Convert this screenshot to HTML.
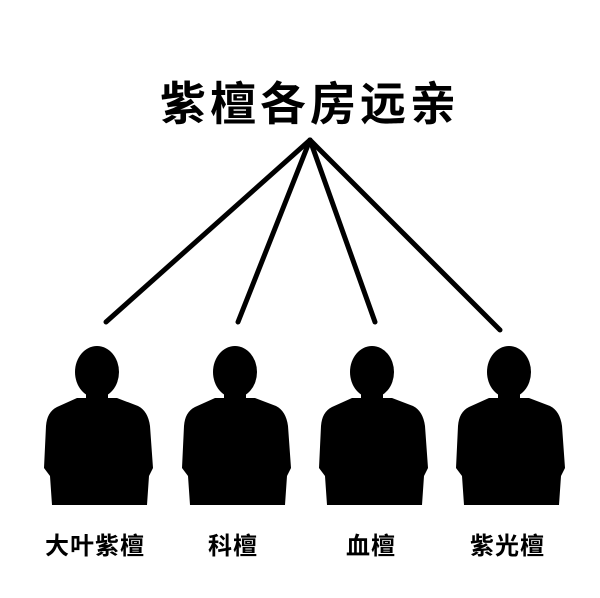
<!DOCTYPE html>
<html><head><meta charset="utf-8"><style>
html,body{margin:0;padding:0;background:#fff;}
body{width:600px;height:598px;position:relative;overflow:hidden;}
.t{position:absolute;font-family:"Liberation Sans","Noto Sans CJK SC",sans-serif;font-weight:bold;color:#000;white-space:nowrap;}
</style></head><body>
<svg width="600" height="598" style="position:absolute;left:0;top:0">
<g stroke="#000" stroke-width="5" stroke-linecap="round">
<line x1="310" y1="140" x2="106" y2="322"/>
<line x1="310" y1="140" x2="238" y2="322"/>
<line x1="310" y1="140" x2="375" y2="322"/>
<line x1="310" y1="140" x2="500" y2="330"/>
</g>
<defs>
<g id="p">
<ellipse cx="0" cy="372" rx="22" ry="26"/>
<rect x="-11" y="390" width="22" height="14"/>
<path d="M-20 398 L-40 407 Q-50 412 -51 426 L-53 468 L-47 476 L-45 505 L50 505 L52 476 L56 468 L53 426 Q51 411 41 406 L20 398 Z"/>
</g>
</defs>
<use href="#p" x="97"/>
<use href="#p" x="235"/>
<use href="#p" x="372"/>
<use href="#p" x="509"/>
</svg>
<div class="t" style="left:160px;top:68px;font-size:46px;letter-spacing:4px;">紫檀各房远亲</div>
<div class="t" style="left:45px;top:526px;font-size:24px;letter-spacing:1px;">大叶紫檀</div>
<div class="t" style="left:208px;top:526px;font-size:24px;letter-spacing:1px;">科檀</div>
<div class="t" style="left:346px;top:526px;font-size:24px;letter-spacing:1px;">血檀</div>
<div class="t" style="left:470px;top:526px;font-size:24px;letter-spacing:1px;">紫光檀</div>
</body></html>
